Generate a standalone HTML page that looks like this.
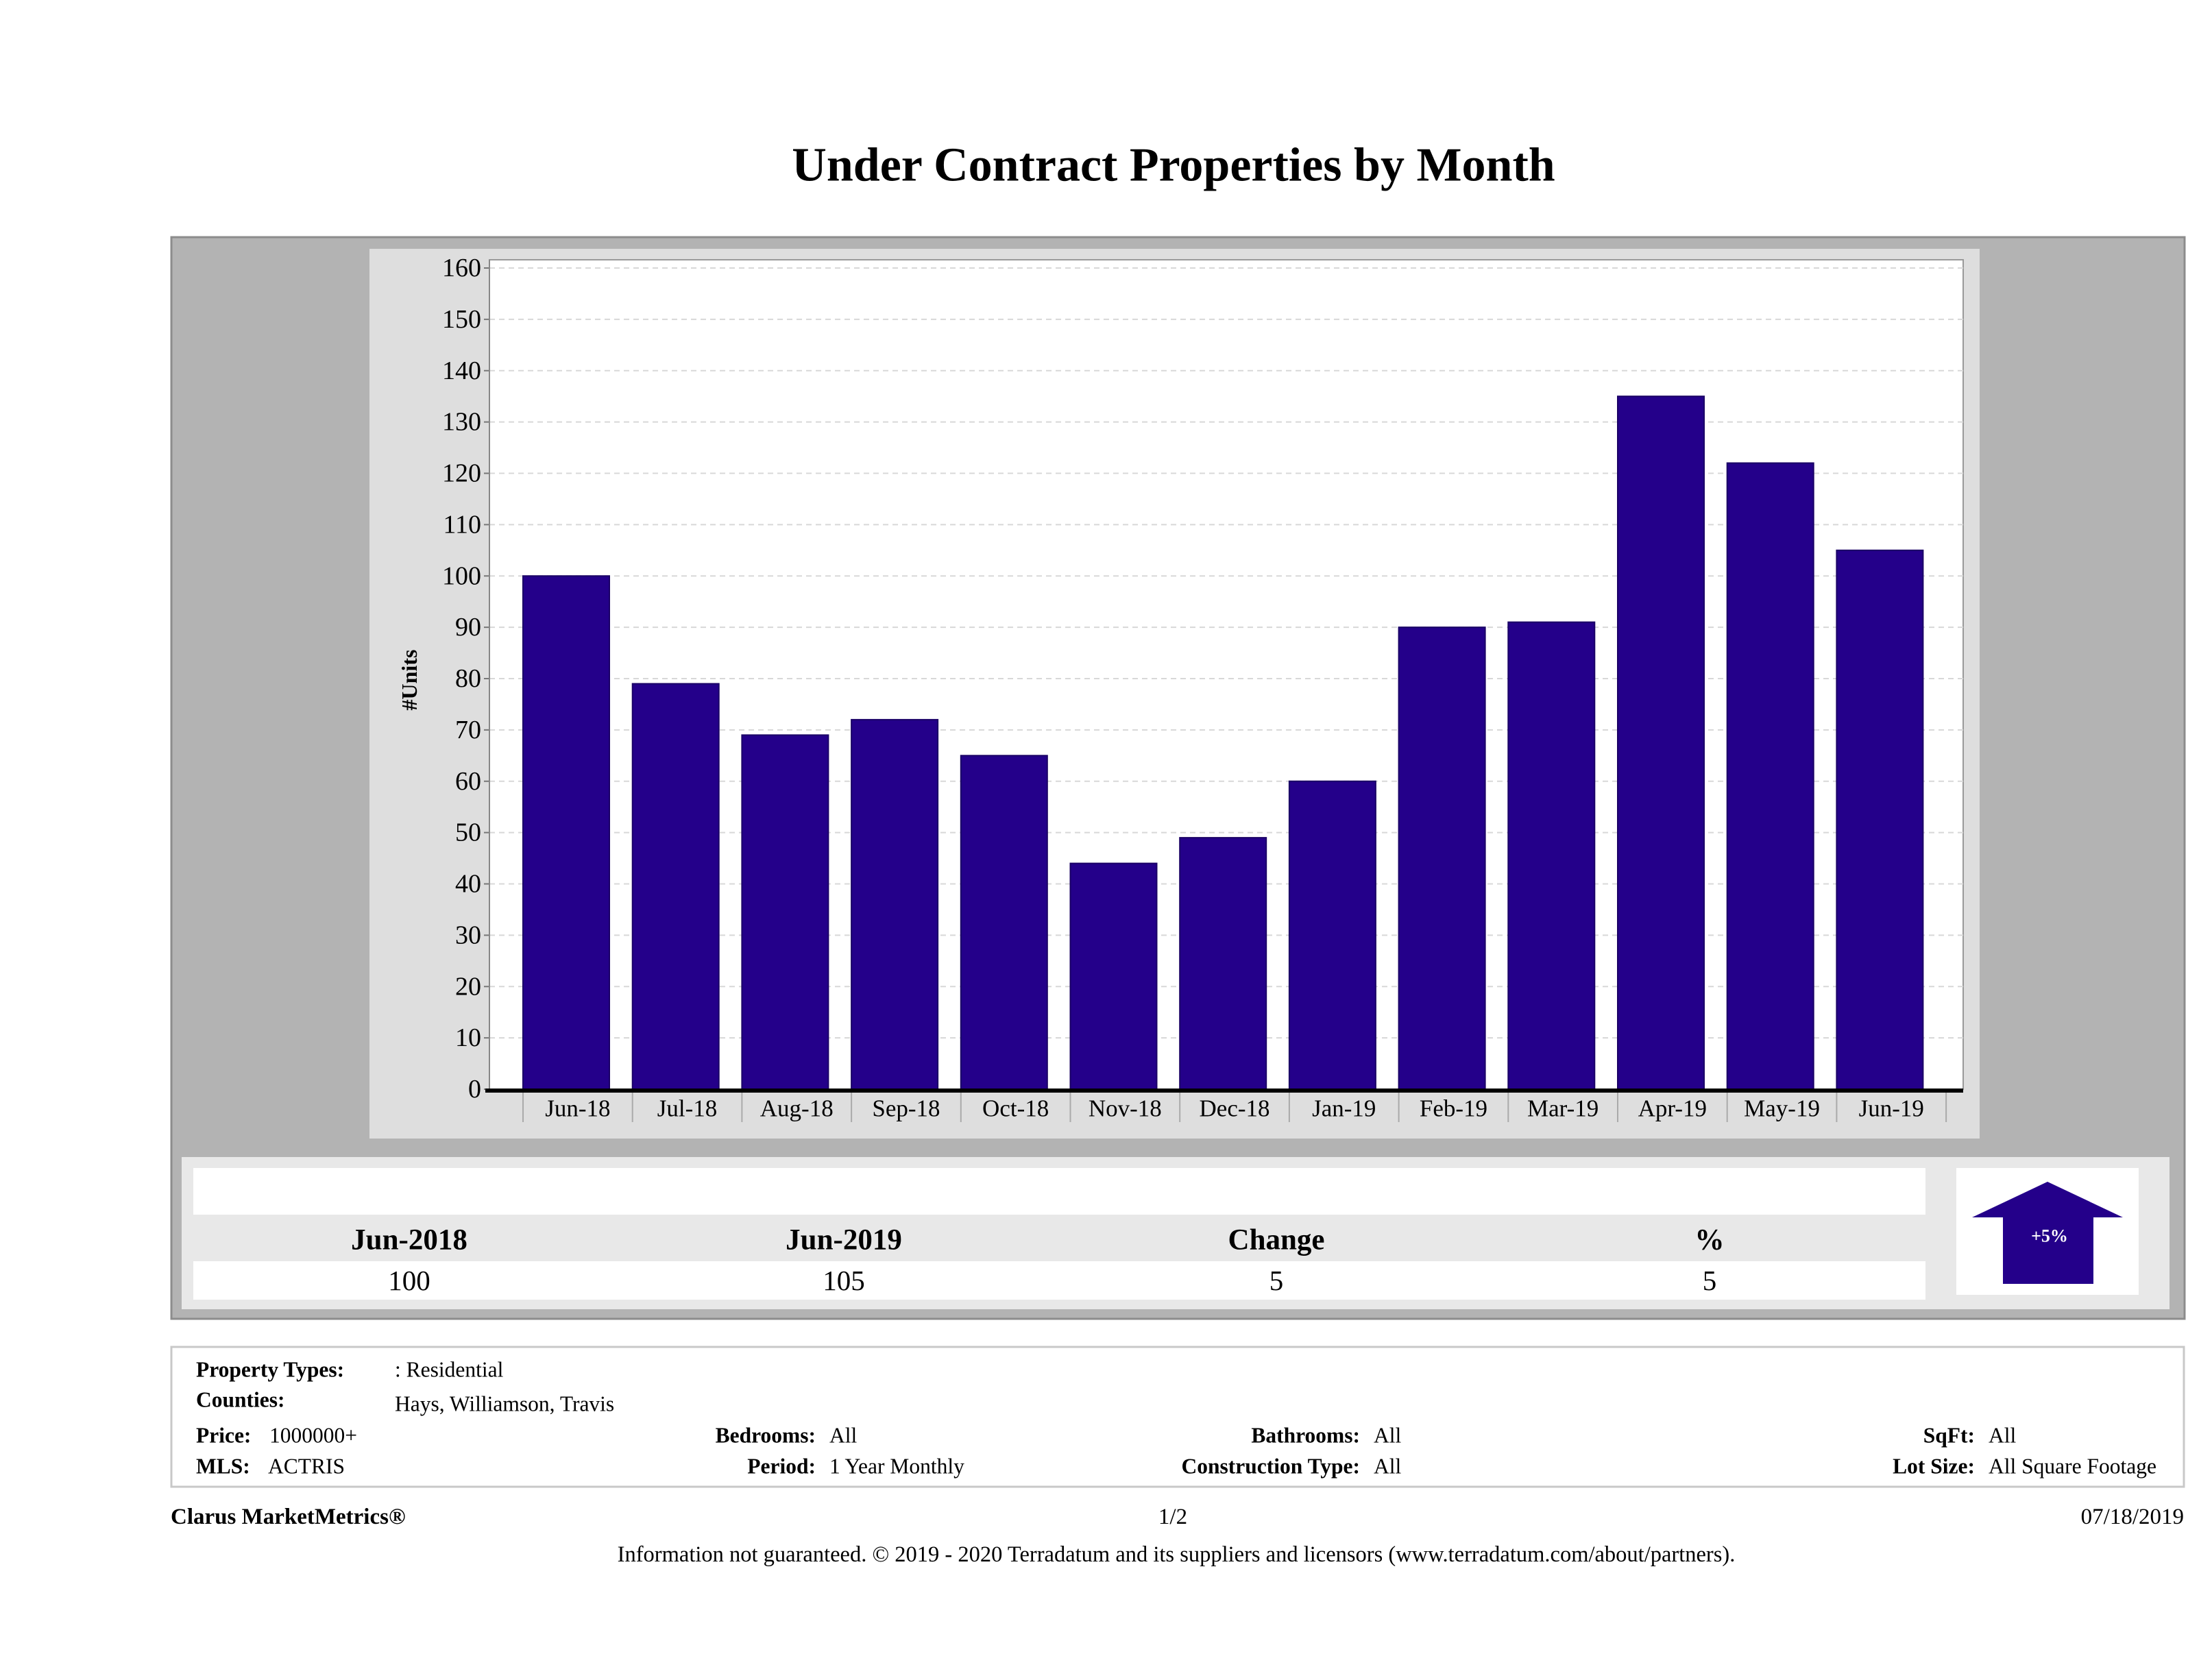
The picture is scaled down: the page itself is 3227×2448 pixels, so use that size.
<!DOCTYPE html>
<html><head><meta charset="utf-8"><style>
html,body{margin:0;padding:0;background:#fff;width:3227px;height:2448px;overflow:hidden}
svg{display:block;font-family:"Liberation Serif",serif}
</style></head><body>
<svg id="page" width="3227" height="2448" viewBox="0 0 3227 2448" xmlns="http://www.w3.org/2000/svg">
<text x="1712" y="241" text-anchor="middle" dominant-baseline="central" font-size="70" font-weight="bold">Under Contract Properties by Month</text>
<rect x="250" y="346" width="2937" height="1578" fill="#b3b3b3" stroke="#8c8c8c" stroke-width="3"/>
<rect x="539" y="363" width="2349" height="1298" fill="#dedede"/>
<rect x="714" y="379" width="2150" height="1210" fill="#fff" stroke="#999" stroke-width="2"/>
<g id="grid"></g>
<g id="yticks"></g>
<g id="bars"></g>
<g id="xticks"></g>
<text transform="translate(597,992) rotate(-90)" text-anchor="middle" dominant-baseline="central" font-size="32" font-weight="bold">#Units</text>

<rect x="265" y="1688" width="2900" height="222" fill="#e8e8e8"/>
<rect x="282" y="1704" width="2527" height="68" fill="#fff"/>
<rect x="282" y="1840" width="2527" height="56" fill="#fff"/>
<g font-size="43" font-weight="bold" text-anchor="middle" dominant-baseline="central">
<text x="597" y="1809">Jun-2018</text>
<text x="1231" y="1809">Jun-2019</text>
<text x="1862" y="1809">Change</text>
<text x="2494" y="1809">%</text>
</g>
<g font-size="41" text-anchor="middle" dominant-baseline="central">
<text x="597" y="1868">100</text>
<text x="1231" y="1868">105</text>
<text x="1862" y="1868">5</text>
<text x="2494" y="1868">5</text>
</g>
<rect x="2854" y="1704" width="266" height="185" fill="#fff"/>
<path d="M2877,1776 L2987,1724 L3097,1776 L3054,1776 L3054,1873 L2922,1873 L2922,1776 Z" fill="#24008a"/>
<text x="2990" y="1803" text-anchor="middle" dominant-baseline="central" font-size="26" font-weight="bold" fill="#fff">+5%</text>

<rect x="250" y="1965" width="2936" height="204" fill="#fff" stroke="#c8c8c8" stroke-width="3"/>
<g font-size="31.5" dominant-baseline="central">
<text x="286" y="1998" font-weight="bold">Property Types:</text>
<text x="576" y="1998">: Residential</text>
<text x="286" y="2042" font-weight="bold">Counties:</text>
<text x="576" y="2048">Hays, Williamson, Travis</text>
<text x="286" y="2094" font-weight="bold">Price:</text>
<text x="393" y="2094">1000000+</text>
<text x="286" y="2139" font-weight="bold">MLS:</text>
<text x="391" y="2139">ACTRIS</text>
<text x="1190" y="2094" font-weight="bold" text-anchor="end">Bedrooms:</text>
<text x="1210" y="2094">All</text>
<text x="1190" y="2139" font-weight="bold" text-anchor="end">Period:</text>
<text x="1210" y="2139">1 Year Monthly</text>
<text x="1984" y="2094" font-weight="bold" text-anchor="end">Bathrooms:</text>
<text x="2004" y="2094">All</text>
<text x="1984" y="2139" font-weight="bold" text-anchor="end">Construction Type:</text>
<text x="2004" y="2139">All</text>
<text x="2881" y="2094" font-weight="bold" text-anchor="end">SqFt:</text>
<text x="2901" y="2094">All</text>
<text x="2881" y="2139" font-weight="bold" text-anchor="end">Lot Size:</text>
<text x="2901" y="2139">All Square Footage</text>
</g>
<g font-size="33" dominant-baseline="central">
<text x="249" y="2213" font-weight="bold">Clarus MarketMetrics®</text>
<text x="1711" y="2213" text-anchor="middle">1/2</text>
<text x="3186" y="2213" text-anchor="end">07/18/2019</text>
<text x="1716" y="2268" text-anchor="middle" font-size="32.5">Information not guaranteed. © 2019 - 2020 Terradatum and its suppliers and licensors (www.terradatum.com/about/partners).</text>
</g>
</svg>
<script>
const categories = ["Jun-18","Jul-18","Aug-18","Sep-18","Oct-18","Nov-18","Dec-18","Jan-19","Feb-19","Mar-19","Apr-19","May-19","Jun-19"];
const units = [100,79,69,72,65,44,49,60,90,91,135,122,105];
const yTicks = [0,10,20,30,40,50,60,70,80,90,100,110,120,130,140,150,160];

const NS = "http://www.w3.org/2000/svg";
const plotL = 714, plotR = 2864, y0 = 1589, yTop = 391, yMax = 160;
const bandStart = 763, band = 159.7, barW = 126;
function yScale(v){ return y0 - (v / yMax) * (y0 - yTop); }
function xBand(i){ return bandStart + i * band; }
function mk(tag, attrs, parent){ const e = document.createElementNS(NS, tag); for (const k in attrs) e.setAttribute(k, attrs[k]); parent.appendChild(e); return e; }

const grid = document.getElementById('grid');
const yt = document.getElementById('yticks');
yTicks.forEach(t => {
  const y = yScale(t);
  if (t > 0) {
    const g = mk('line', {x1: plotL, x2: plotR, y1: y, y2: y, stroke: '#d8d8d8', 'stroke-width': 2, 'stroke-dasharray': '8,6'}, grid);
    
    
  }
  const tk = mk('line', {x1: plotL - 8, x2: plotL, y1: y, y2: y, stroke: '#777', 'stroke-width': 2}, yt);
  
  
  const tx = mk('text', {x: plotL - 12, y: y, 'text-anchor': 'end', 'dominant-baseline': 'central', 'font-size': 38}, yt);
  tx.textContent = t;
  
  
});
const yl = mk('line', {x1: plotL, x2: plotL, y1: 379, y2: y0, stroke: '#888', 'stroke-width': 2}, yt);



const bars = document.getElementById('bars');
units.forEach((v, i) => {
  const x = xBand(i), y = yScale(v);
  const r = mk('rect', {x: x, y: y, width: barW, height: y0 - y, fill: '#24008a', stroke: '#1a0066', 'stroke-width': 2}, bars);
  
  
});

const xt = document.getElementById('xticks');
const axis = mk('line', {x1: plotL - 6, x2: plotR, y1: y0 + 2, y2: y0 + 2, stroke: '#000', 'stroke-width': 6}, xt);


categories.forEach((c, i) => {
  const x = xBand(i);
  const s = mk('line', {x1: x, x2: x, y1: y0 + 5, y2: y0 + 48, stroke: '#aaa', 'stroke-width': 2}, xt);
  
  
  const t = mk('text', {x: x + band / 2, y: y0 + 28, 'text-anchor': 'middle', 'dominant-baseline': 'central', 'font-size': 35}, xt);
  t.textContent = c;
  
  
});
const last = xBand(categories.length);
const ls = mk('line', {x1: last, x2: last, y1: y0 + 5, y2: y0 + 48, stroke: '#aaa', 'stroke-width': 2}, xt);


</script>
</body></html>
